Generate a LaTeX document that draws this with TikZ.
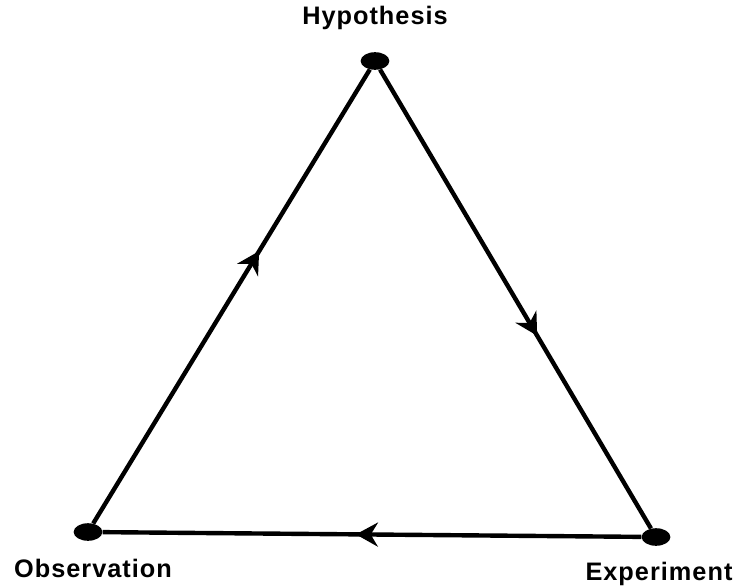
\documentclass[tikz,border=0pt]{standalone}
\usepackage{fontspec}
\setmainfont{Liberation Sans}
\usetikzlibrary{arrows.meta,decorations.markings,shapes.geometric}
\tikzset{
  dot/.style={ellipse, fill=black, minimum width=0.72cm, minimum height=0.44cm, inner sep=0pt},
  label/.style={font=\fontsize{18}{21}\selectfont\bfseries\addfontfeatures{LetterSpace=4}, anchor=base},
  edge/.style={line width=0.11cm, postaction={decorate},
    decoration={markings, mark=at position #1 with {\arrow{Stealth[length=0.55cm,width=0.6cm]}}}}
}
\begin{document}
\begin{tikzpicture}
    \useasboundingbox (0,0) rectangle (18.425,14.65);

    % Corners
    \node[dot] (hyp) at (9.375,13.125) {};
    \node[dot] (obs) at (2.2,1.35) {};
    \node[dot] (exp) at (16.4,1.225) {};

    % Labels
    \node[label] (hyplabel) at (9.375,14.025) {Hypothesis};
    \node[label] (obslabel) at (2.325,0.225) {Observation};
    \node[label] (explabel) at (16.475,0.15) {Experiment};

    % Cycle
    \draw[edge=0.6] (obs) -- (hyp);
    \draw[edge=0.58] (hyp) -- (exp);
    \draw[edge=0.53] (exp) -- (obs);
\end{tikzpicture}
\end{document}
